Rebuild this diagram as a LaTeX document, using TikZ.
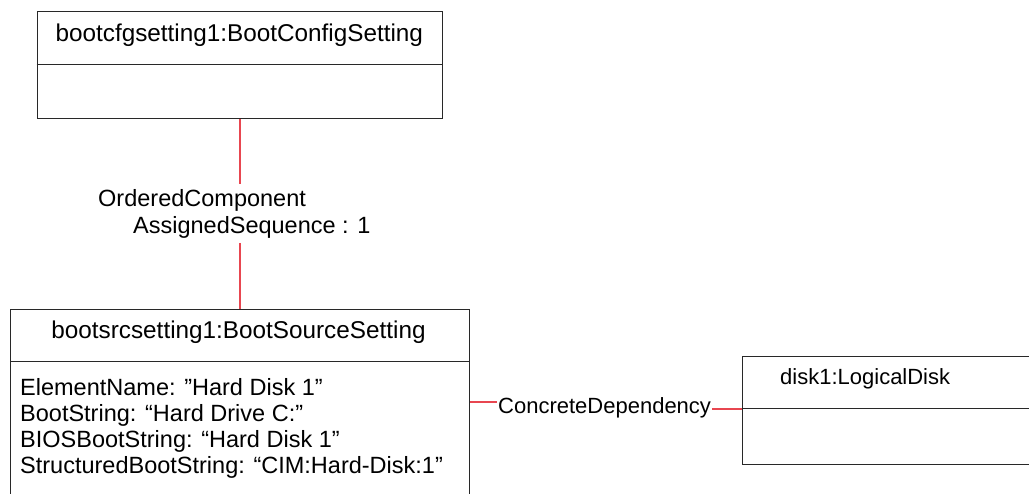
\documentclass[tikz,border=0pt]{standalone}
\usepackage{fontspec}
\setmainfont{Liberation Sans}
\definecolor{connred}{RGB}{232,70,80}
\definecolor{boxline}{RGB}{40,40,40}
\begin{document}
\begin{tikzpicture}[x=1pt,y=1pt,
  umlbox/.style={draw=boxline, line width=1pt, rectangle, inner sep=0pt, anchor=north west},
  divider/.style={draw=boxline, line width=1pt},
  conn/.style={color=connred, line width=1.1pt},
  vconn/.style={conn, line width=1.6pt},
  titletxt/.style={inner sep=0pt, font=\fontsize{24.3}{26}\selectfont},
  txt/.style={inner sep=0pt, font=\fontsize{23.5}{25.8}\selectfont},
  smalltxt/.style={inner sep=0pt, font=\fontsize{22}{25}\selectfont},
  ]
\useasboundingbox (0,0) rectangle (1029,-494);
\clip (0,0) rectangle (1029,-494);
\fill[white] (0,0) rectangle (1029,-494);

% boxes
\node[umlbox, minimum width=405.3pt, minimum height=107pt] (cfg) at (36.7,-11) {};
\draw[divider] (cfg.west |- 0,-65) -- (cfg.east |- 0,-65);
\node[titletxt, anchor=base] (cfgt) at (239.3,-42) {bootcfgsetting1:BootConfigSetting};

\node[umlbox, minimum width=459pt, minimum height=200pt] (src) at (10,-309) {};
\draw[divider] (src.west |- 0,-362) -- (src.east |- 0,-362);
\node[titletxt, anchor=base] (srct) at (238.5,-339) {bootsrcsetting1:BootSourceSetting};
\node[txt, anchor=base west] (a1) at (20,-396) {ElementName: ”Hard Disk 1”};
\node[txt, anchor=base west] (a2) at (20,-421.8) {BootString: “Hard Drive C:”};
\node[txt, anchor=base west] (a3) at (20,-447.6) {BIOSBootString: “Hard Disk 1”};
\node[txt, anchor=base west] (a4) at (20,-473.4) {StructuredBootString: “CIM:Hard-Disk:1”};

\node[umlbox, minimum width=400pt, minimum height=108pt] (disk) at (742,-356) {};
\draw[divider] (disk.west |- 0,-409) -- (disk.east |- 0,-409);
\node[smalltxt, anchor=base west] (diskt) at (780,-385) {disk1:LogicalDisk};

% OrderedComponent
\node[txt, anchor=base west] (oc1) at (98,-207) {OrderedComponent};
\node[txt, anchor=base west] (oc2) at (133,-234) {AssignedSequence : 1};
\coordinate (ocA) at (cfg.south |- 0,-184);
\coordinate (ocB) at (cfg.south |- 0,-243);
\draw[vconn] (cfg.south) -- (ocA);
\draw[vconn] (ocB) -- (ocB |- src.north);

% ConcreteDependency
\node[smalltxt, anchor=base west, inner xsep=1pt] (cd) at (497,-414) {ConcreteDependency};
\draw[conn] (src.east |- 0,-402) -- (cd.west |- 0,-402);
\draw[conn] (cd.east |- 0,-409) -- (disk.west |- 0,-409);
\end{tikzpicture}
\end{document}
